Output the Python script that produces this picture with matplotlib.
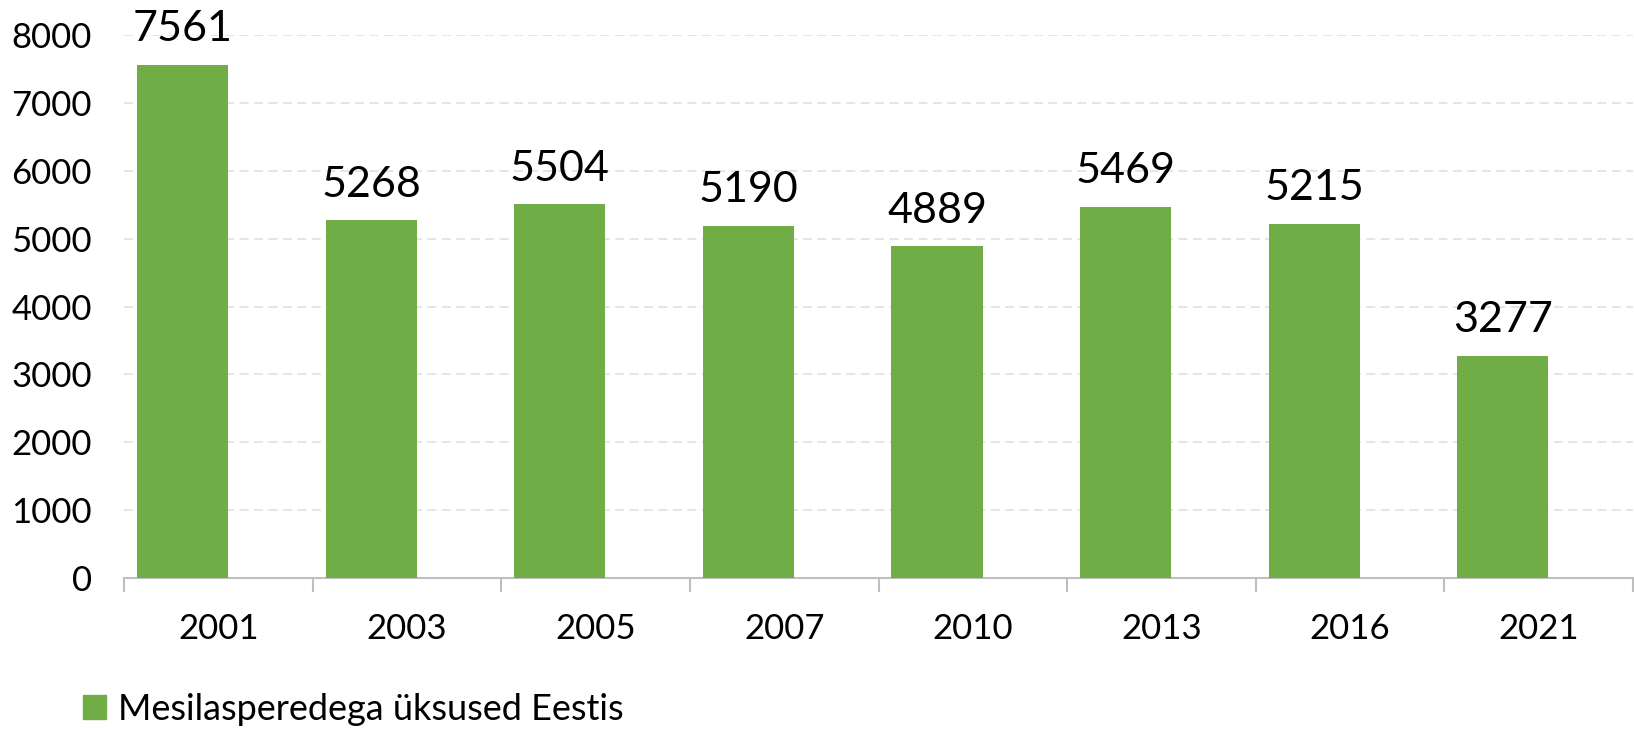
import matplotlib
matplotlib.use("Agg")
import matplotlib.pyplot as plt
import numpy as np
from matplotlib.patches import Patch

# andmed
years = ["2001", "2003", "2005", "2007", "2010", "2013", "2016", "2021"]
units = [7561, 5268, 5504, 5190, 4889, 5469, 5215, 3277]
series_name = "Mesilasperedega üksused Eestis"

plt.rcParams['font.family'] = ['Lato', 'DejaVu Sans']

fig = plt.figure(figsize=(16.34, 7.29), dpi=100)
ax = fig.add_axes([124 / 1634, 1 - 578 / 729, (1633 - 124) / 1634, (578 - 35) / 729])

x = np.arange(len(years))
bars = ax.bar(x - 0.19, units, width=0.483, color="#70AD47", zorder=3)

for xi, v in zip(x, units):
    ax.annotate(str(v), (xi - 0.19, v), xytext=(0, 17), textcoords="offset points",
                ha="center", va="baseline", fontsize=31, clip_on=False)

ax.set_xlim(-0.5, len(years) - 0.5)
ax.set_ylim(0, 8000)
ax.set_yticks(np.arange(0, 8001, 1000))
ax.yaxis.grid(True, color="#e3e3e3", linestyle=(0, (5, 3)), linewidth=1.3, zorder=0)
ax.tick_params(axis="y", length=0, pad=23, labelsize=25)

# kategooriate vahelised kriipsud
ax.set_xticks(np.arange(-0.5, len(years), 1.0))
ax.set_xticklabels([])
ax.set_xticks(x, minor=True)
ax.set_xticklabels(years, minor=True)
ax.tick_params(axis="x", which="major", length=10, width=1.5, color="#bfbfbf")
ax.tick_params(axis="x", which="minor", length=0, pad=25, labelsize=25)

for s in ["top", "right", "left"]:
    ax.spines[s].set_visible(False)
ax.spines["bottom"].set_color("#bfbfbf")
ax.spines["bottom"].set_linewidth(1.5)

fig.legend(handles=[Patch(color="#70AD47", label=series_name)],
           loc="center left", bbox_to_anchor=(83 / 1634, 20 / 729), frameon=False,
           borderpad=0, borderaxespad=0,
           fontsize=26, handlelength=0.64, handleheight=0.64, handletextpad=0.33)

fig.savefig("out.png", dpi=100)
